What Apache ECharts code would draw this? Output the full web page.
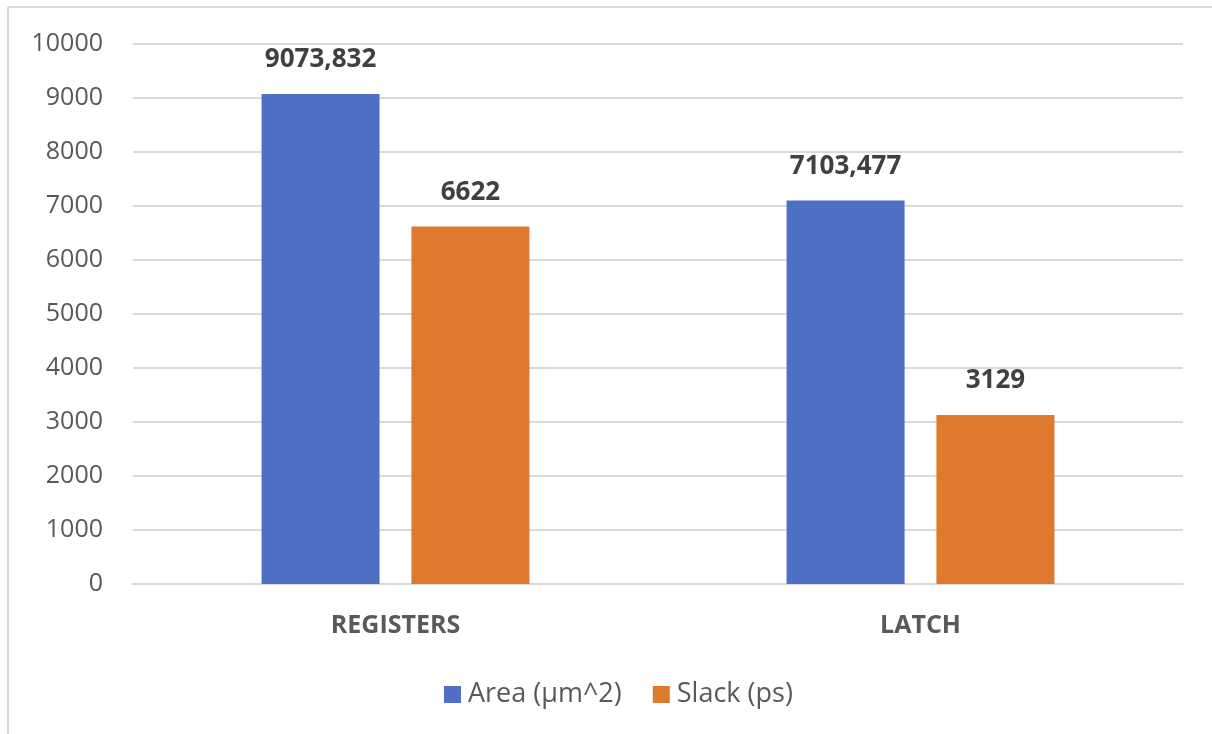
<!DOCTYPE html>
<html>
<head>
<meta charset="utf-8">
<script src="https://cdn.jsdelivr.net/npm/echarts@6/dist/echarts.min.js"></script>
<style>
  html, body { margin: 0; padding: 0; background: #fff; }
  #chart { width: 1212px; height: 734px; }
</style>
</head>
<body>
<div id="chart"></div>
<script>
// Design comparison: flip-flop registers vs. latches
const categories = ['REGISTERS', 'LATCH'];
const areaValues = [9073.832, 7103.477];
const slackValues = [6622, 3129];
const seriesNames = ['Area (µm^2)', 'Slack (ps)'];
const yTicks = { min: 0, max: 10000, interval: 1000 };

const FONT = '"Open Sans", "Noto Sans", sans-serif';

// Decimal comma, as in the source data
function fmt(v) {
  return String(v).replace('.', ',');
}

const chart = echarts.init(document.getElementById('chart'), null, { renderer: 'canvas' });

const barLabel = {
  show: true, position: 'top', distance: 21,
  fontSize: 26, fontWeight: 'bold', color: '#404040', fontFamily: FONT,
  formatter: p => fmt(p.value)
};

chart.setOption({
  animation: false,
  backgroundColor: '#ffffff',
  textStyle: { fontFamily: FONT },
  graphic: [
    { type: 'line', shape: { x1: 8, y1: 7, x2: 1212, y2: 7 }, style: { stroke: '#d9d9d9', lineWidth: 2 } },
    { type: 'line', shape: { x1: 8, y1: 7, x2: 8, y2: 734 }, style: { stroke: '#d9d9d9', lineWidth: 2 } }
  ],
  grid: { left: 133, right: 29, top: 44, bottom: 150, containLabel: false },
  legend: {
    top: 676,
    left: 439,
    itemWidth: 17,
    itemHeight: 17,
    itemGap: 31,
    icon: 'rect',
    textStyle: { fontSize: 27, color: '#595959', fontFamily: FONT, padding: [0, 0, 0, 2] },
    data: seriesNames
  },
  xAxis: {
    type: 'category',
    data: categories,
    axisLine: { show: true, lineStyle: { color: '#d9d9d9', width: 2 } },
    axisTick: { show: false },
    axisLabel: { fontSize: 25, fontWeight: 'bold', color: '#595959', margin: 29, fontFamily: FONT }
  },
  yAxis: {
    type: 'value',
    min: yTicks.min,
    max: yTicks.max,
    interval: yTicks.interval,
    axisLine: { show: false },
    axisTick: { show: false },
    splitLine: { lineStyle: { color: '#d9d9d9', width: 2 } },
    axisLabel: {
      fontSize: 25, color: '#595959', margin: 30, fontFamily: FONT,
      formatter: v => String(v)
    }
  },
  series: [
    {
      name: seriesNames[0],
      type: 'bar',
      data: areaValues,
      barWidth: 118,
      barGap: '27%',
      itemStyle: { color: '#4f6fc4' },
      label: barLabel
    },
    {
      name: seriesNames[1],
      type: 'bar',
      data: slackValues,
      barWidth: 118,
      itemStyle: { color: '#df792d' },
      label: barLabel
    }
  ]
});
</script>
</body>
</html>
